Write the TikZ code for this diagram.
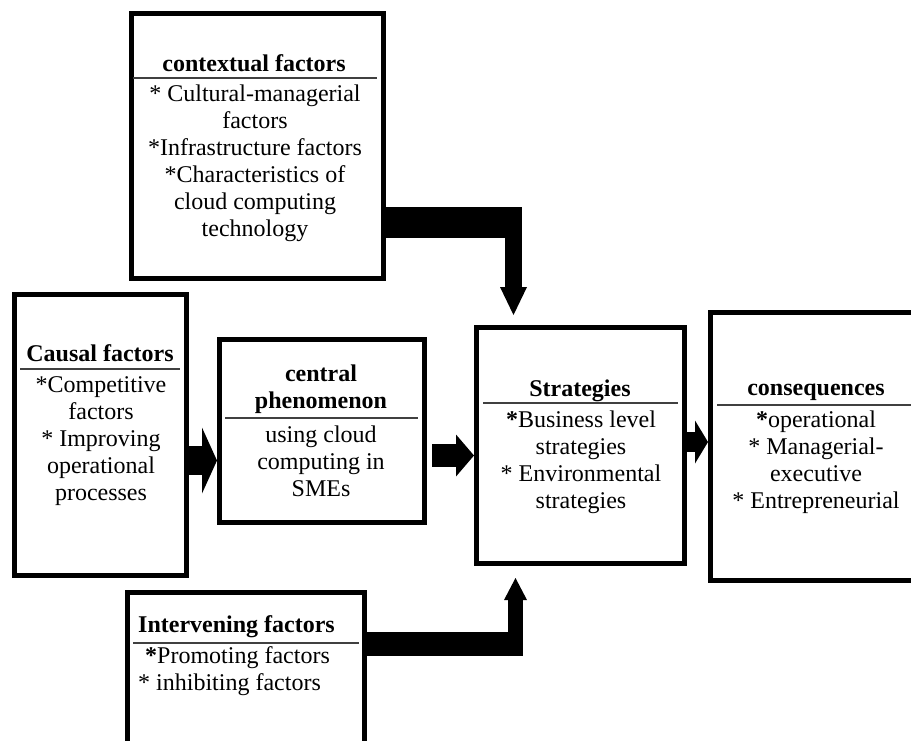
\documentclass[tikz,border=0pt]{standalone}
\usepackage{fontspec}
\setmainfont{Liberation Serif}
\usepackage{tikz}
\usetikzlibrary{arrows.meta}

\tikzset{
    blockbox/.style={draw, line width=5pt, inner sep=0pt},
    txt/.style={inner sep=0pt, align=center, font=\fontsize{24}{27}\selectfont},
    headtxt/.style={txt, font=\fontsize{24}{27}\selectfont\bfseries},
    titlerule/.style={line width=1.8pt, black!75},
    blockarrow/.style n args={3}{line width=#1, -{Triangle[width=#2, length=#3, line width=0pt]}},
}

\begin{document}
\begin{tikzpicture}[x=1pt, y=-1pt]
                \useasboundingbox (0,0) rectangle (911,740);
                \clip (0,0) rectangle (911,740);

                % boxes
                \node[blockbox, minimum width=252pt, minimum height=265pt] (ctx) at (257.5,146) {};
                \node[blockbox, minimum width=172pt, minimum height=281pt] (causal) at (100.5,435) {};
                \node[blockbox, minimum width=205pt, minimum height=183pt] (central) at (322,431) {};
                \node[blockbox, minimum width=208pt, minimum height=236pt] (strat) at (580.5,445.5) {};
                \node[blockbox, minimum width=211pt, minimum height=268pt] (conseq) at (816,446.5) {};
                \node[blockbox, minimum width=237pt, minimum height=205pt] (interv) at (246,695) {};

                % texts
                \node[headtxt] (ctxhead) at (254,63) {contextual factors};
                \draw[titlerule] (133,78) -- (377,78);
                \node[txt] (ctxbody) at (255,163) {* Cultural-managerial\\factors\\*Infrastructure factors\\*Characteristics of\\cloud computing\\technology};

                \node[headtxt] (causalhead) at (100,353) {Causal factors};
                \draw[titlerule] (20,369) -- (180,369);
                \node[txt] (causalbody) at (101,441) {*Competitive\\factors\\* Improving\\operational\\processes};

                \node[headtxt] (centralhead) at (321,389) {central\\phenomenon};
                \draw[titlerule] (225,418) -- (418,418);
                \node[txt] (centralbody) at (321,461.5) {using cloud\\computing in\\SMEs};

                \node[headtxt] (strathead) at (580,391) {Strategies};
                \draw[titlerule] (483,403) -- (678,403);
                \node[txt] (stratbody) at (581,462) {\textbf{*}Business level\\strategies\\* Environmental\\strategies};

                \node[headtxt] (conseqhead) at (816,392) {consequences};
                \draw[titlerule] (717,405) -- (911,405);
                \node[txt] (conseqbody) at (816,462) {\textbf{*}operational\\* Managerial-\\executive\\* Entrepreneurial};

                \node[headtxt, anchor=west] (intervhead) at (138,627) {Intervening factors};
                \draw[titlerule] (133,643) -- (359,643);
                \node[txt, anchor=west, align=left] (intervbody) at (138,671.5) {\hspace*{7pt}\textbf{*}Promoting factors\\* inhibiting factors};

                % arrows
                \coordinate (ctxbend) at (513.5,222.5);
                \draw[line width=31pt] (ctx.east |- ctxbend) -- ([xshift=8.5pt]ctxbend);
                \draw[blockarrow={17pt}{27pt}{28pt}, shorten >=10pt] ([yshift=15.5pt]ctxbend) -- (strat.north -| ctxbend);

                \coordinate (causaly) at (0,460.5);
                \draw[blockarrow={29pt}{66pt}{15pt}] (causal.east |- causaly) -- (central.west |- causaly);

                \coordinate (centraly) at (0,455.5);
                \draw[blockarrow={23pt}{42pt}{18pt}, shorten <=5pt] (central.east |- centraly) -- (strat.west |- centraly);

                \coordinate (straty) at (0,442);
                \draw[blockarrow={20pt}{43pt}{13pt}] (strat.east |- straty) -- (conseq.west |- straty);

                \coordinate (intervbend) at (515.5,644);
                \draw[line width=24pt] (interv.east |- intervbend) -- ([xshift=7.5pt]intervbend);
                \draw[blockarrow={15pt}{23pt}{22pt}, shorten >=12pt] ([yshift=-12pt]intervbend) -- (strat.south -| intervbend);
\end{tikzpicture}
\end{document}
